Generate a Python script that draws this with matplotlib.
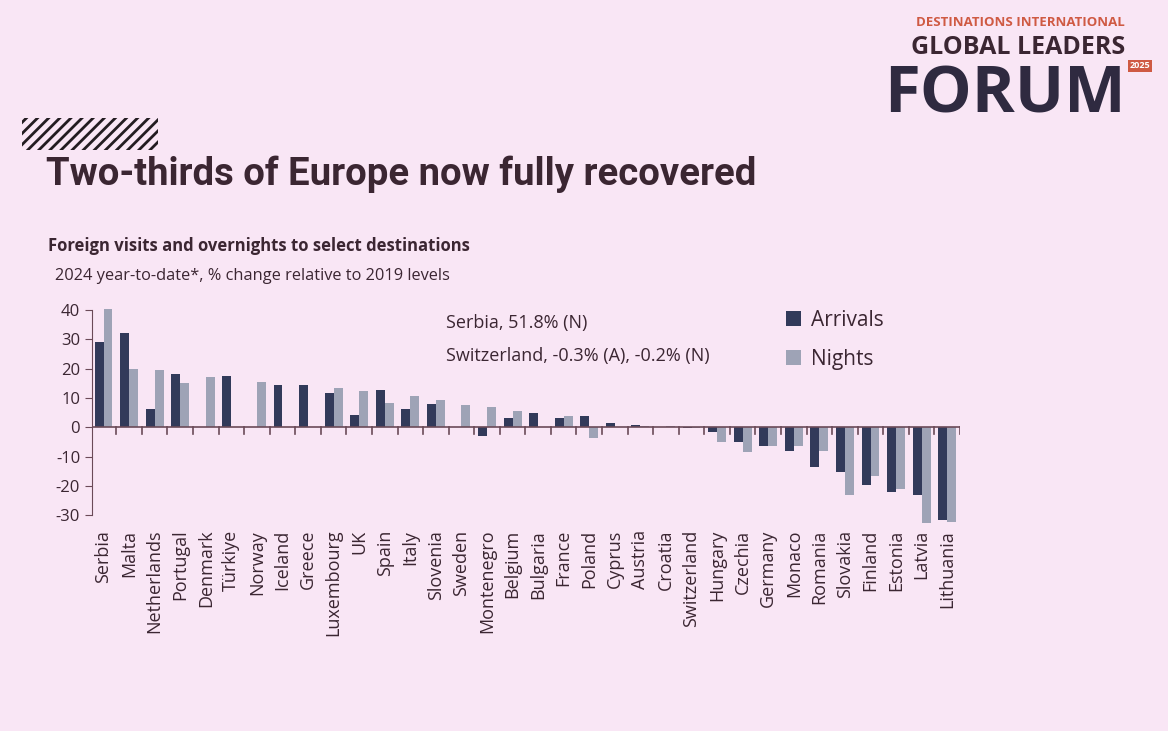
import numpy as np
import matplotlib.pyplot as plt
from matplotlib.patches import Rectangle

# data (% change vs 2019, 2024 year-to-date)
countries = ["Serbia", "Malta", "Netherlands", "Portugal", "Denmark", "Türkiye",
             "Norway", "Iceland", "Greece", "Luxembourg", "UK", "Spain", "Italy",
             "Slovenia", "Sweden", "Montenegro", "Belgium", "Bulgaria", "France",
             "Poland", "Cyprus", "Austria", "Croatia", "Switzerland", "Hungary",
             "Czechia", "Germany", "Monaco", "Romania", "Slovakia", "Finland",
             "Estonia", "Latvia", "Lithuania"]
arrivals = [29.0, 32.0, 6.2, 18.0, np.nan, 17.3, np.nan, 14.3, 14.3, 11.8, 4.1,
            12.6, 6.3, 7.9, np.nan, -2.9, 3.3, 4.9, 3.3, 3.8, 1.6, 0.6, np.nan,
            -0.3, -1.6, -5.2, -6.3, -8.1, -13.5, -15.4, -19.7, -22.2, -23.0, -31.6]
nights = [51.8, 19.9, 19.4, 15.0, 17.0, np.nan, 15.3, np.nan, np.nan, 13.4, 12.5,
          8.3, 10.5, 9.4, 7.5, 7.0, 5.4, np.nan, 3.8, -3.6, np.nan, 0.5, 0.5,
          -0.2, -5.2, -8.5, -6.3, -6.3, -8.1, -23.0, -16.6, -20.9, -32.7, -32.3]
yticks = [40, 30, 20, 10, 0, -10, -20, -30]

bg = "#f9e6f5"
ink = "#3b2632"
axis_col = "#6b4a58"
c_arr = "#323a5a"
c_night = "#9ea3b6"

W, H = 1168, 731
plt.rcParams["hatch.linewidth"] = 2.0
fig = plt.figure(figsize=(W / 100, H / 100), dpi=100)
fig.patch.set_facecolor(bg)
font = ["Open Sans", "DejaVu Sans"]


def fx(px):
    return px / W


def fy(py):
    return 1 - py / H


# hatched band above the title
band = Rectangle((fx(22), fy(150)), fx(136), 32 / H, transform=fig.transFigure,
                 facecolor="none", edgecolor="#231c21", hatch="///", linewidth=0)
fig.patches.append(band)

fig.text(fx(46), fy(174), "Two-thirds of Europe now fully recovered",
         fontsize=27.5, fontweight="bold", color=ink, va="center",
         family=["Roboto", "DejaVu Sans"])

# logo
fig.text(fx(1125), fy(22), "DESTINATIONS INTERNATIONAL", fontsize=9.5,
         fontweight="bold", color="#cf5a43", ha="right", va="center", family=font)
fig.text(fx(1125), fy(47), "GLOBAL LEADERS", fontsize=18, fontweight="bold",
         color=ink, ha="right", va="center", family=font)
fig.text(fx(884), fy(96), "FORUM", fontsize=47, fontweight="bold",
         color="#2f2a40", ha="left", va="center", family=font)
fig.text(fx(1140), fy(66), "2025", fontsize=6.5, fontweight="bold", color="white",
         ha="center", va="center", family=font,
         bbox=dict(boxstyle="square,pad=0.2", fc="#cf5a43", ec="none"))

fig.text(fx(48), fy(246), "Foreign visits and overnights to select destinations",
         fontsize=12, fontweight="bold", color=ink, va="center", family=font)
fig.text(fx(55), fy(276), "2024 year-to-date*, % change relative to 2019 levels",
         fontsize=11.8, color=ink, va="center", family=font)

# chart
ax = fig.add_axes([fx(92), fy(527), fx(868), 218 / H])
ax.set_facecolor("none")
x = np.arange(len(countries))
w = 0.35
ax.bar(x - w / 2, arrivals, w, color=c_arr, label="Arrivals")
ax.bar(x + w / 2, nights, w, color=c_night, label="Nights")
ax.set_ylim(-34, 40.3)
ax.set_xlim(-0.45, len(countries) - 0.5)

for s in ["top", "right", "bottom"]:
    ax.spines[s].set_visible(False)
ax.spines["left"].set_bounds(-30, 40)
ax.spines["left"].set_color(axis_col)
ax.axhline(0, color=axis_col, linewidth=1.2, zorder=3)

ax.set_yticks(yticks)
ax.set_yticklabels([str(v) for v in yticks], fontsize=12, color=ink, family=font)
ax.tick_params(axis="y", colors=axis_col, length=5, labelcolor=ink)

ax.set_xticks(x)
ax.set_xticklabels(countries, rotation=90, fontsize=13, color=ink, family=font)
ax.tick_params(axis="x", length=0, pad=2)
# tick marks between groups, hanging below the zero line
for b in np.arange(0.5, len(countries), 1.0):
    ax.plot([b, b], [0, -2.2], color=axis_col, linewidth=1.2, zorder=3)

ax.text(0.408, 0.937, "Serbia, 51.8% (N)", transform=ax.transAxes, fontsize=13,
        color=ink, family=font, va="center")
ax.text(0.408, 0.786, "Switzerland, -0.3% (A), -0.2% (N)", transform=ax.transAxes,
        fontsize=13, color=ink, family=font, va="center")

ax.legend(loc="upper left", bbox_to_anchor=(0.778, 1.082), frameon=False,
          labelspacing=0.87, handlelength=0.7, handleheight=0.7,
          handletextpad=0.5, labelcolor=ink, prop={"family": font, "size": 15})

fig.savefig("out.png", dpi=100, facecolor=bg)
